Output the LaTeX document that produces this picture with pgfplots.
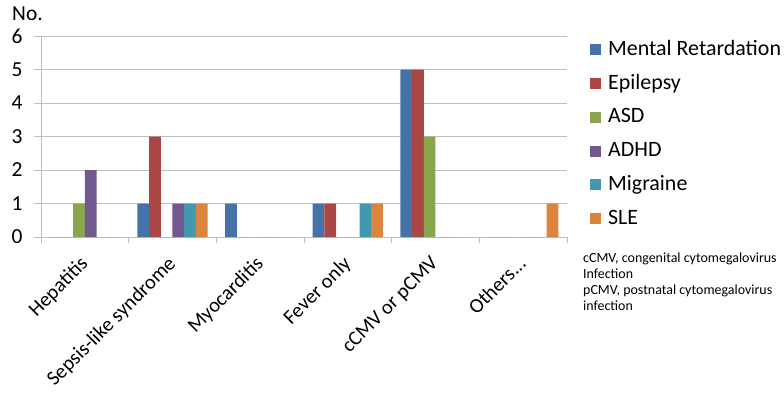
\documentclass[border=0pt]{standalone}
\usepackage{fontspec}
\setmainfont{Carlito}
\usepackage{pgfplots}
\pgfplotsset{compat=1.18}

\definecolor{cMR}{HTML}{4572A7}
\definecolor{cEp}{HTML}{AA4643}
\definecolor{cASD}{HTML}{89A54E}
\definecolor{cADHD}{HTML}{71588F}
\definecolor{cMig}{HTML}{4198AF}
\definecolor{cSLE}{HTML}{DB843D}
\definecolor{gridgray}{HTML}{BEBEBE}

\pgfplotsset{sq/.style={legend image code/.code={\fill[##1] (0bp,-5.5bp) rectangle (11bp,5.5bp);}}}

\begin{document}
\begin{tikzpicture}
\begin{axis}[
  at={(0,0)}, anchor=south west,
  scale only axis, width=526bp, height=201bp,
  xmin=-0.5, xmax=5.5, ymin=0, ymax=6,
  ybar=0pt, bar width=11.7bp,
  axis x line*=bottom, axis y line*=left,
  axis line style={gridgray, line width=0.8pt},
  xtick={0,1,2,3,4,5},
  xticklabels={Hepatitis, Sepsis-like syndrome, Myocarditis, Fever only, cCMV or pCMV, {Others.{}.{}.}},
  minor xtick={-0.5,0.5,1.5,2.5,3.5,4.5,5.5},
  ytick={0,1,2,3,4,5,6},
  ymajorgrids, grid style={gridgray, line width=0.8pt},
  tick align=outside,
  major tick length=7bp, minor tick length=6bp,
  tick style={gridgray, line width=0.8pt},
  xtick style={draw=none},
  minor x tick style={gridgray, draw},
  /pgf/number format/assume math mode=true,
  tick label style={font=\fontsize{21.5}{24}\selectfont},
  yticklabel style={xshift=-8bp},
  xticklabel style={xshift=-6bp, yshift=-6bp, rotate=45, anchor=north east, font=\fontsize{20.5}{24}\selectfont},
  legend style={draw=none, fill=none, at={(1,1)}, anchor=north west, xshift=20bp, yshift=-2bp,
    font=\fontsize{22}{25}\selectfont, row sep=14.8bp,
    nodes={inner sep=0pt, text height=15bp, text depth=4bp},
    /tikz/every odd column/.append style={column sep=7bp}},
  legend cell align=left,
]
\addplot[fill=cMR, draw=none, sq] coordinates {(0,0) (1,1) (2,1) (3,1) (4,5) (5,0)};
\addplot[fill=cEp, draw=none, sq] coordinates {(0,0) (1,3) (2,0) (3,1) (4,5) (5,0)};
\addplot[fill=cASD, draw=none, sq] coordinates {(0,1) (1,0) (2,0) (3,0) (4,3) (5,0)};
\addplot[fill=cADHD, draw=none, sq] coordinates {(0,2) (1,1) (2,0) (3,0) (4,0) (5,0)};
\addplot[fill=cMig, draw=none, sq] coordinates {(0,0) (1,1) (2,0) (3,1) (4,0) (5,0)};
\addplot[fill=cSLE, draw=none, sq] coordinates {(0,0) (1,1) (2,0) (3,1) (4,0) (5,1)};
\legend{Mental Retardation, Epilepsy, ASD, ADHD, Migraine, SLE}
\end{axis}
\node[anchor=base west, inner sep=0pt, font=\fontsize{21.5}{24}\selectfont] at (-29bp,216bp) {No.};
\node[anchor=north west, inner sep=0pt, align=left, font=\fontsize{14}{16}\selectfont] at (542bp,-16bp)
  {cCMV, congenital cytomegalovirus\\Infection\\pCMV, postnatal cytomegalovirus\\infection};
\pgfresetboundingbox
\useasboundingbox (-41bp,-163bp) rectangle (743bp,237bp);
\end{tikzpicture}
\end{document}
